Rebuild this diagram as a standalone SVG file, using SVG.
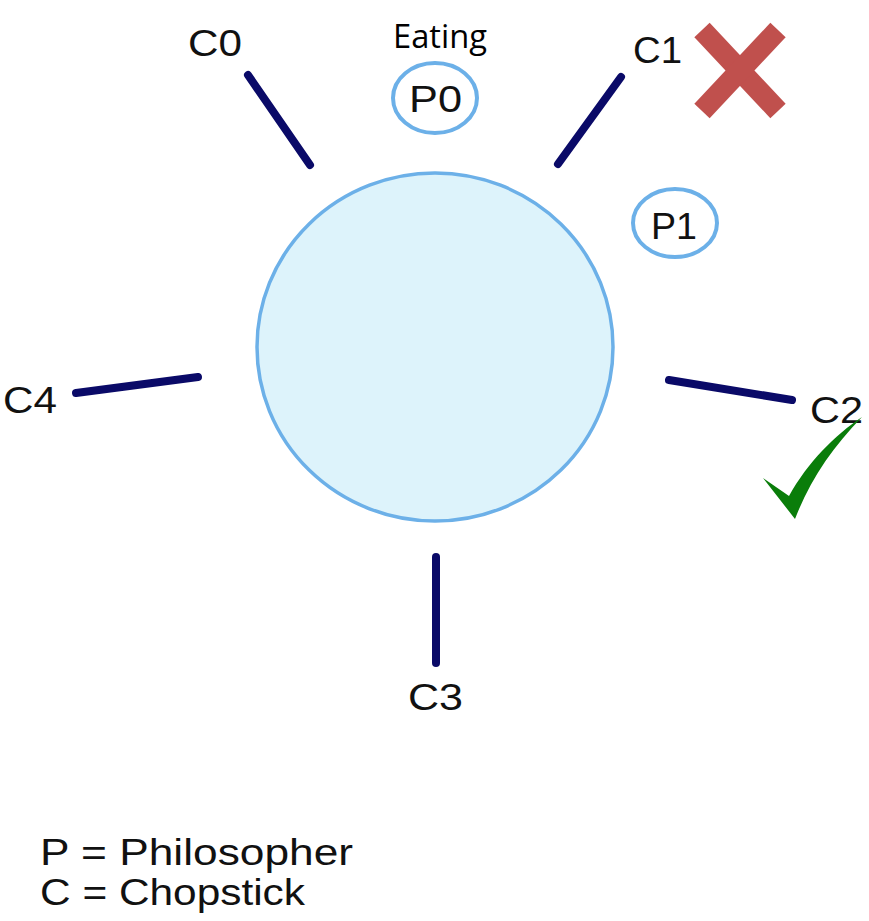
<svg xmlns="http://www.w3.org/2000/svg" width="869" height="921" viewBox="0 0 869 921">
<style>
.lbl{font-family:"Liberation Sans",Arial,sans-serif;font-size:36px;fill:#111}
.stick{stroke:#0a0a68;stroke-width:8;stroke-linecap:round;fill:none}
.phil{fill:#fff;stroke:#6cb0e8;stroke-width:4}
</style>
<rect width="869" height="921" fill="#fff"/>
<g id="table"><ellipse cx="435" cy="347" rx="178" ry="174" fill="#ddf3fb" stroke="#6cb0e8" stroke-width="3.5"/></g>
<g id="connectors">
<line class="stick" x1="248" y1="75" x2="310" y2="165"/>
<line class="stick" x1="621" y1="77" x2="558" y2="164"/>
<line class="stick" x1="669" y1="380" x2="792" y2="400"/>
<line class="stick" x1="436" y1="557" x2="436" y2="663"/>
<line class="stick" x1="76" y1="393" x2="198" y2="377"/>
</g>
<g id="P0"><ellipse class="phil" cx="435" cy="98" rx="42" ry="35"/><text class="lbl" x="409" y="112" textLength="53" lengthAdjust="spacingAndGlyphs">P0</text></g>
<g id="P1"><ellipse class="phil" cx="675" cy="223" rx="42" ry="34"/><text class="lbl" x="651" y="239" textLength="46" lengthAdjust="spacingAndGlyphs">P1</text></g>
<g id="C0"><text class="lbl" x="188" y="56" textLength="54" lengthAdjust="spacingAndGlyphs">C0</text></g>
<g id="C1"><text class="lbl" x="633" y="63" textLength="49" lengthAdjust="spacingAndGlyphs">C1</text></g>
<g id="C2"><text class="lbl" x="810" y="423" textLength="53" lengthAdjust="spacingAndGlyphs">C2</text></g>
<g id="C3"><text class="lbl" x="408" y="710" textLength="55" lengthAdjust="spacingAndGlyphs">C3</text></g>
<g id="C4"><text class="lbl" x="3" y="413" textLength="54" lengthAdjust="spacingAndGlyphs">C4</text></g>
<g id="eating"><text x="393" y="48" font-family="'Open Sans','Noto Sans',sans-serif" font-size="32" font-weight="500" fill="#000" textLength="94" lengthAdjust="spacingAndGlyphs">Eating</text></g>
<g id="cross"><line x1="702" y1="30" x2="778" y2="111" stroke="#c0504d" stroke-width="21"/><line x1="778" y1="30" x2="702" y2="111" stroke="#c0504d" stroke-width="21"/></g>
<g id="check"><path d="M763 478 L789 496 C808 462 835 435 862 417 C832 448 810 480 795 519 Z" fill="#0a7d0a"/></g>
<g id="legend">
<text class="lbl" x="40" y="865" textLength="313" lengthAdjust="spacingAndGlyphs">P = Philosopher</text>
<text class="lbl" x="40" y="905" textLength="265" lengthAdjust="spacingAndGlyphs">C = Chopstick</text>
</g>
</svg>
